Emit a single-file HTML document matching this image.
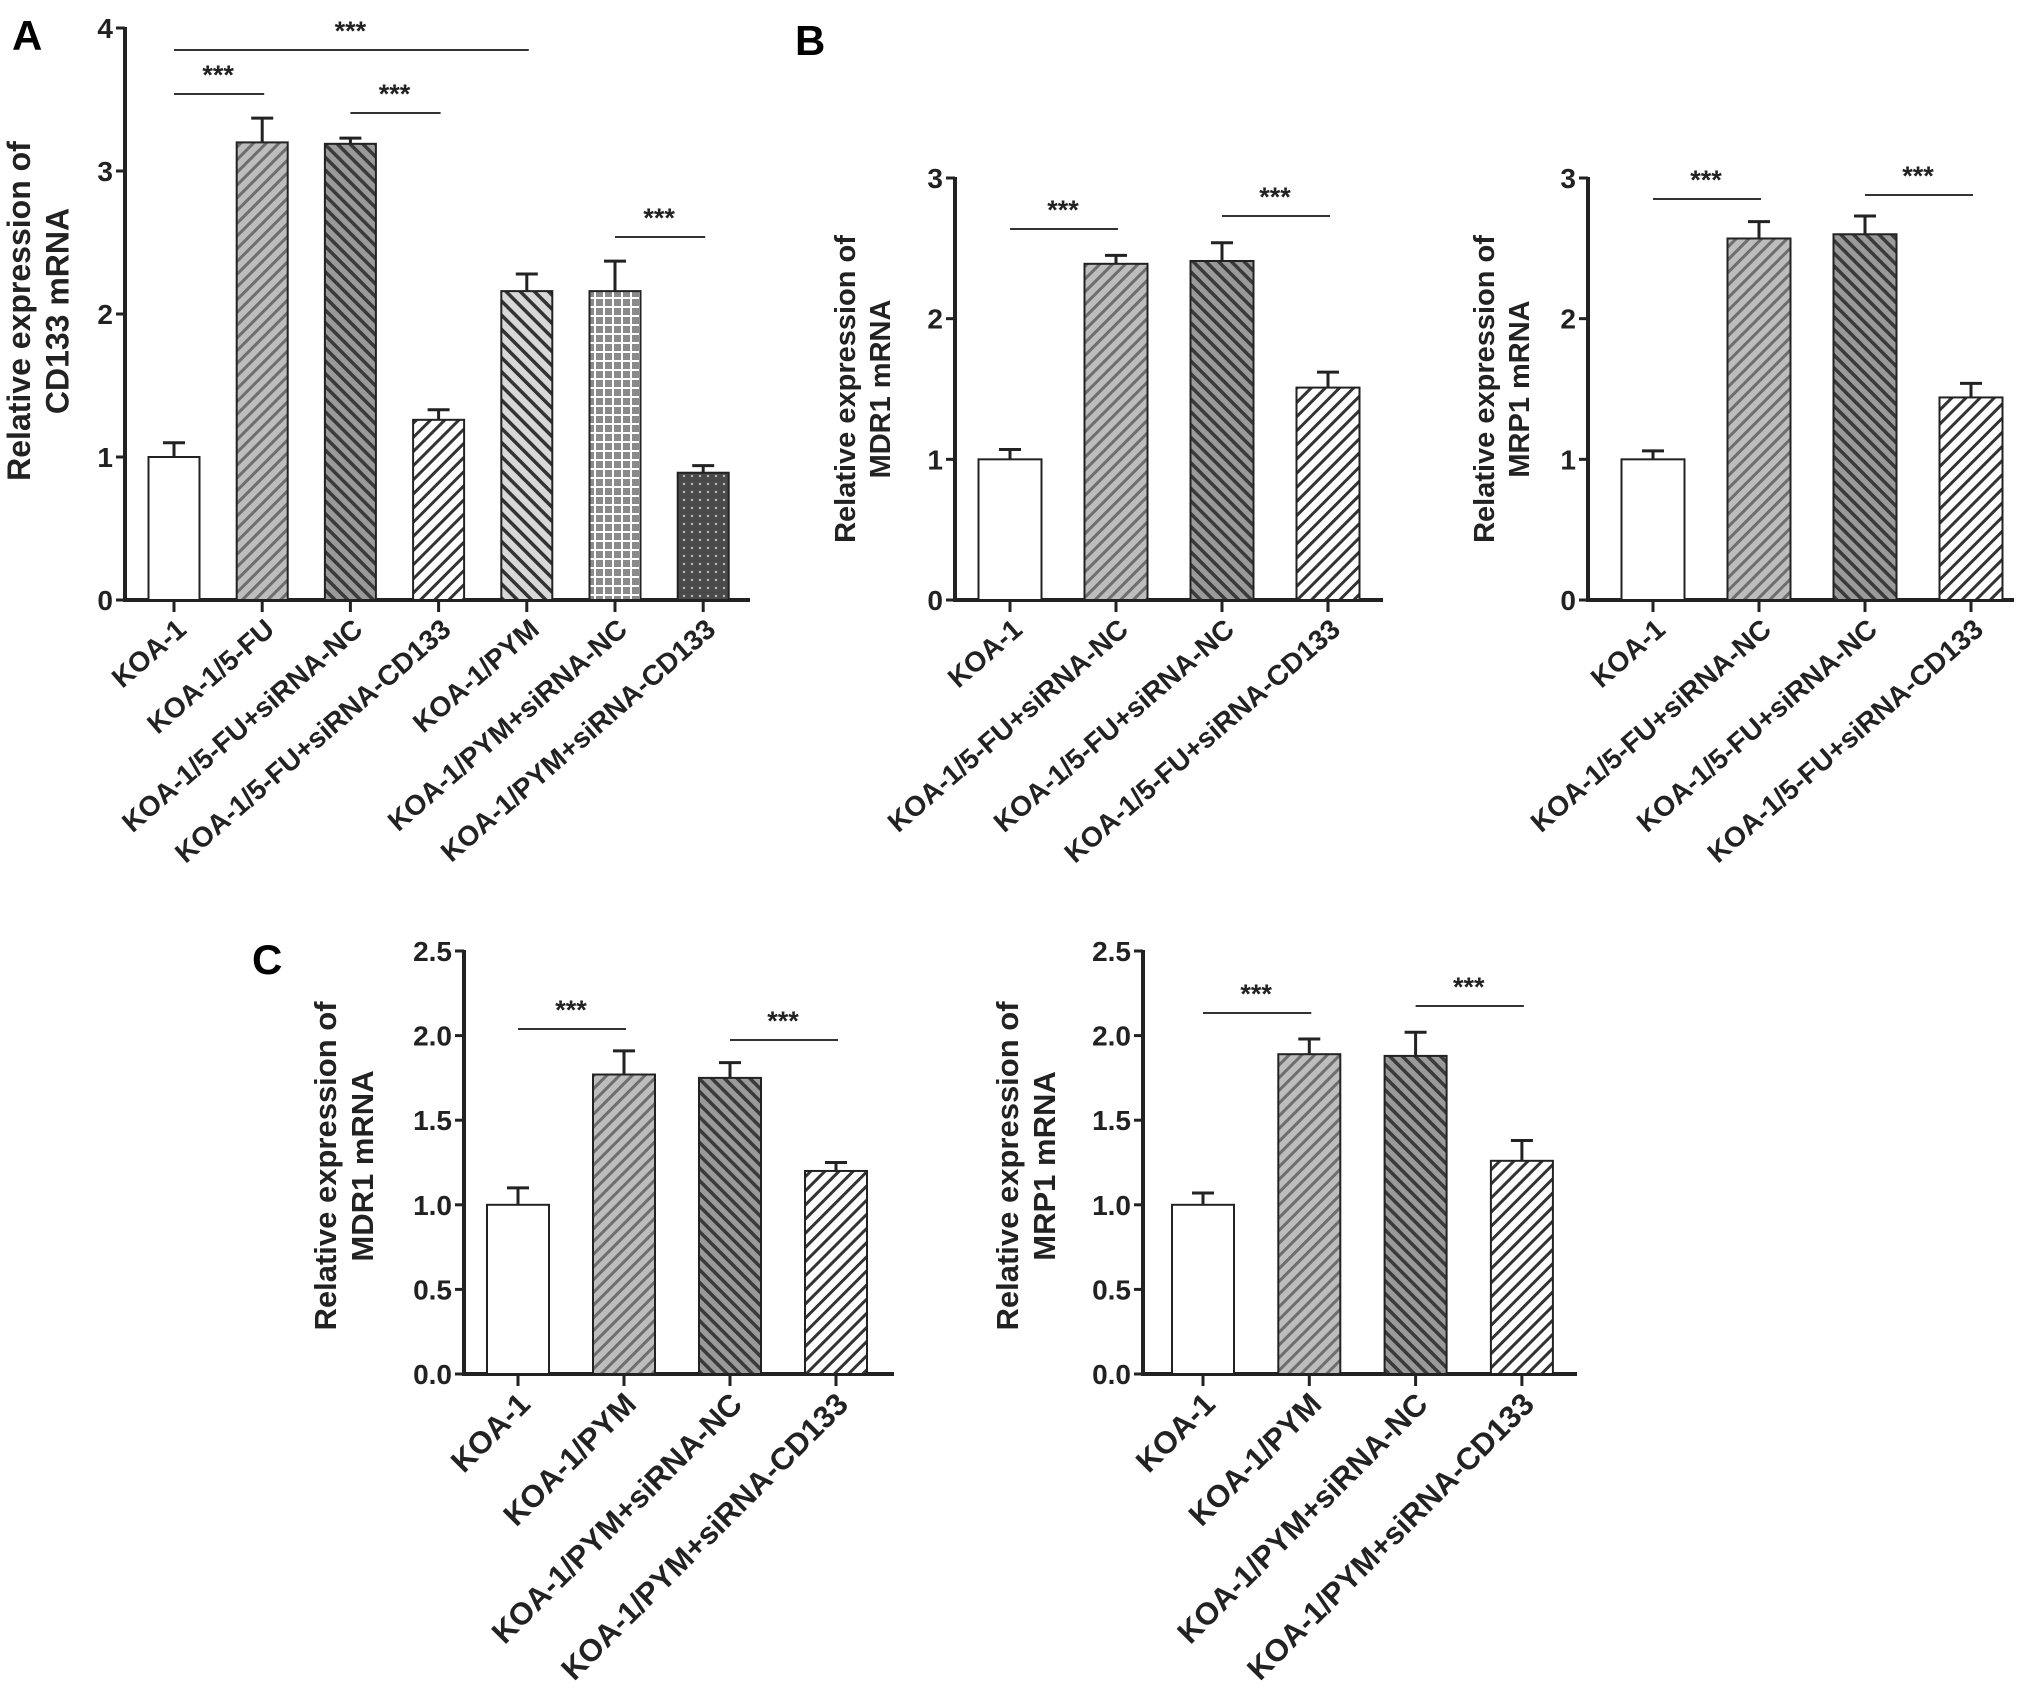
<!DOCTYPE html>
<html><head><meta charset="utf-8"><style>
html,body{margin:0;padding:0;background:#fff;}
svg{display:block;font-family:"Liberation Sans",sans-serif;font-weight:bold;}
</style></head><body>
<svg id="fig" width="2031" height="1700" viewBox="0 0 2031 1700">
<defs>
<pattern id="pLight" patternUnits="userSpaceOnUse" width="9" height="9" patternTransform="rotate(45)"><rect width="9" height="9" fill="#bdbdbd"/><rect width="3" height="9" fill="#6e6e6e"/></pattern>
<pattern id="pDark" patternUnits="userSpaceOnUse" width="9" height="9" patternTransform="rotate(-45)"><rect width="9" height="9" fill="#9a9a9a"/><rect width="3.5" height="9" fill="#3a3a3a"/></pattern>
<pattern id="pWhiteFwd" patternUnits="userSpaceOnUse" width="10" height="10" patternTransform="rotate(45)"><rect width="10" height="10" fill="#fff"/><rect width="3" height="10" fill="#333"/></pattern>
<pattern id="pBack" patternUnits="userSpaceOnUse" width="10" height="10" patternTransform="rotate(-45)"><rect width="10" height="10" fill="#d8d8d8"/><rect width="3.5" height="10" fill="#333"/></pattern>
<pattern id="pGrid" patternUnits="userSpaceOnUse" width="9" height="9"><rect width="9" height="9" fill="#8a8a8a"/><rect x="0" y="0" width="2" height="9" fill="#fff"/><rect x="0" y="0" width="9" height="2" fill="#fff"/></pattern>
<pattern id="pDots" patternUnits="userSpaceOnUse" width="8" height="8"><rect width="8" height="8" fill="#4a4a4a"/><circle cx="4" cy="4" r="1.2" fill="#bbb"/></pattern>
</defs>
<text x="12" y="50" font-size="42">A</text>
<text x="795" y="55" font-size="42">B</text>
<text x="252" y="974" font-size="42">C</text>
</svg>
<script>
// Panel A data
const catsA = ["KOA-1","KOA-1/5-FU","KOA-1/5-FU+siRNA-NC","KOA-1/5-FU+siRNA-CD133","KOA-1/PYM","KOA-1/PYM+siRNA-NC","KOA-1/PYM+siRNA-CD133"];
const valsA = [1.0, 3.2, 3.19, 1.26, 2.16, 2.16, 0.89];
const errsA = [0.1, 0.17, 0.04, 0.07, 0.12, 0.21, 0.05];
const ticksA = [0, 1, 2, 3, 4];
// Panel B data
const catsB = ["KOA-1","KOA-1/5-FU+siRNA-NC","KOA-1/5-FU+siRNA-NC","KOA-1/5-FU+siRNA-CD133"];
const valsB1 = [1.0, 2.39, 2.41, 1.51];
const errsB1 = [0.07, 0.06, 0.13, 0.11];
const valsB2 = [1.0, 2.57, 2.6, 1.44];
const errsB2 = [0.06, 0.12, 0.13, 0.1];
const ticksB = [0, 1, 2, 3];
// Panel C data
const catsC = ["KOA-1","KOA-1/PYM","KOA-1/PYM+siRNA-NC","KOA-1/PYM+siRNA-CD133"];
const valsC1 = [1.0, 1.77, 1.75, 1.2];
const errsC1 = [0.1, 0.14, 0.09, 0.05];
const valsC2 = [1.0, 1.89, 1.88, 1.26];
const errsC2 = [0.07, 0.09, 0.14, 0.12];
const ticksC = [0, 0.5, 1.0, 1.5, 2.0, 2.5];
const ticksCLabels = ["0.0","0.5","1.0","1.5","2.0","2.5"];

const NS = "http://www.w3.org/2000/svg";
const svg = document.getElementById('fig');
function mk(tag, attrs, parent) {
  const e = document.createElementNS(NS, tag);
  for (const k in attrs) e.setAttribute(k, attrs[k]);
  (parent || svg).appendChild(e);
  return e;
}

function panel(o) {
  const g = mk('g', {});
  
  
  const y = v => o.y0 - (v - o.ticks[0]) / (o.ticks[o.ticks.length - 1] - o.ticks[0]) * (o.y0 - o.yTop);
  const x = i => o.first + i * o.step;
  const ya = mk('line', {x1: o.ax, y1: o.yTop - 1, x2: o.ax, y2: o.y0, stroke: '#222', 'stroke-width': 4}, g);
  
  
  o.ticks.forEach((t, i) => {
    mk('line', {x1: o.ax - 9, y1: y(t), x2: o.ax, y2: y(t), stroke: '#222', 'stroke-width': 3}, g);
    const tl = mk('text', {x: o.ax - 12, y: y(t) + 10, 'font-size': 28, 'text-anchor': 'end', fill: '#222'}, g);
    tl.textContent = o.tickLabels ? o.tickLabels[i] : t;
    
    
  });
  const xa = mk('line', {x1: o.ax - 2, y1: o.y0, x2: o.xEnd, y2: o.y0, stroke: '#222', 'stroke-width': 4}, g);
  
  
  o.vals.forEach((v, i) => {
    const cx = x(i), w = o.bw;
    const top = y(v + o.errs[i]);
    mk('line', {x1: cx, y1: y(v), x2: cx, y2: top, stroke: '#222', 'stroke-width': 3}, g);
    mk('line', {x1: cx - 11, y1: top, x2: cx + 11, y2: top, stroke: '#222', 'stroke-width': 3}, g);
    const r = mk('rect', {x: cx - w / 2, y: y(v), width: w, height: o.y0 - y(v), fill: o.fills[i], stroke: '#222', 'stroke-width': 2}, g);
    
    
    mk('line', {x1: cx, y1: o.y0, x2: cx, y2: o.y0 + 12, stroke: '#222', 'stroke-width': 3}, g);
    const lb = mk('text', {x: 0, y: 0, 'font-size': o.lfs, 'text-anchor': 'end', fill: '#222', transform: `translate(${cx + 14},${o.y0 + 32}) rotate(${o.rot})`}, g);
    lb.textContent = o.cats[i];
    
    
  });
  o.sig.forEach(s => {
    const l = mk('line', {x1: x(s[0]), y1: s[2], x2: x(s[1]) + 2, y2: s[2], stroke: '#333', 'stroke-width': 2}, g);
    
    
    const t = mk('text', {x: (x(s[0]) + x(s[1])) / 2, y: s[2] - 10, 'font-size': 27, 'text-anchor': 'middle', fill: '#222'}, g);
    t.textContent = '***';
    
    
  });
  const tt = mk('text', {x: 0, y: 0, 'font-size': o.tfs, 'text-anchor': 'middle', fill: '#222', transform: `translate(${o.tx},${o.ty}) rotate(-90)`}, g);
  
  
  const t1 = mk('tspan', {x: 0, dy: 0}, tt); t1.textContent = 'Relative expression of';
  const t2 = mk('tspan', {x: 0, dy: o.tfs * 1.2}, tt); t2.textContent = o.title2;
}

panel({name: 'panel-a-cd133', cats: catsA, vals: valsA, errs: errsA, ticks: ticksA,
  ax: 125, y0: 600, yTop: 28, xEnd: 750, first: 174, step: 88.2, bw: 51, tfs: 32, lfs: 28, rot: -41,
  fills: ['#fff', 'url(#pLight)', 'url(#pDark)', 'url(#pWhiteFwd)', 'url(#pBack)', 'url(#pGrid)', 'url(#pDots)'],
  sig: [[0, 4, 50], [0, 1, 94], [2, 3, 113], [5, 6, 237]], tx: 30, ty: 311, title2: 'CD133 mRNA'});
panel({name: 'panel-b-mdr1', cats: catsB, vals: valsB1, errs: errsB1, ticks: ticksB,
  ax: 955, y0: 600, yTop: 178, xEnd: 1383, first: 1010, step: 106, bw: 63, tfs: 29, lfs: 28, rot: -41,
  fills: ['#fff', 'url(#pLight)', 'url(#pDark)', 'url(#pWhiteFwd)'],
  sig: [[0, 1, 229], [2, 3, 216]], tx: 855, ty: 389, title2: 'MDR1 mRNA'});
panel({name: 'panel-b-mrp1', cats: catsB, vals: valsB2, errs: errsB2, ticks: ticksB,
  ax: 1588, y0: 600, yTop: 178, xEnd: 2014, first: 1653, step: 106, bw: 63, tfs: 29, lfs: 28, rot: -41,
  fills: ['#fff', 'url(#pLight)', 'url(#pDark)', 'url(#pWhiteFwd)'],
  sig: [[0, 1, 199], [2, 3, 195]], tx: 1494, ty: 389, title2: 'MRP1 mRNA'});
panel({name: 'panel-c-mdr1', cats: catsC, vals: valsC1, errs: errsC1, ticks: ticksC, tickLabels: ticksCLabels,
  ax: 464, y0: 1374, yTop: 951, xEnd: 894, first: 518, step: 106, bw: 62, tfs: 31, lfs: 31, rot: -45,
  fills: ['#fff', 'url(#pLight)', 'url(#pDark)', 'url(#pWhiteFwd)'],
  sig: [[0, 1, 1029], [2, 3, 1040]], tx: 336, ty: 1166, title2: 'MDR1 mRNA'});
panel({name: 'panel-c-mrp1', cats: catsC, vals: valsC2, errs: errsC2, ticks: ticksC, tickLabels: ticksCLabels,
  ax: 1143, y0: 1374, yTop: 951, xEnd: 1577, first: 1203, step: 106.3, bw: 62, tfs: 31, lfs: 31, rot: -45,
  fills: ['#fff', 'url(#pLight)', 'url(#pDark)', 'url(#pWhiteFwd)'],
  sig: [[0, 1, 1013], [2, 3, 1006]], tx: 1018, ty: 1166, title2: 'MRP1 mRNA'});
</script>
</body></html>
